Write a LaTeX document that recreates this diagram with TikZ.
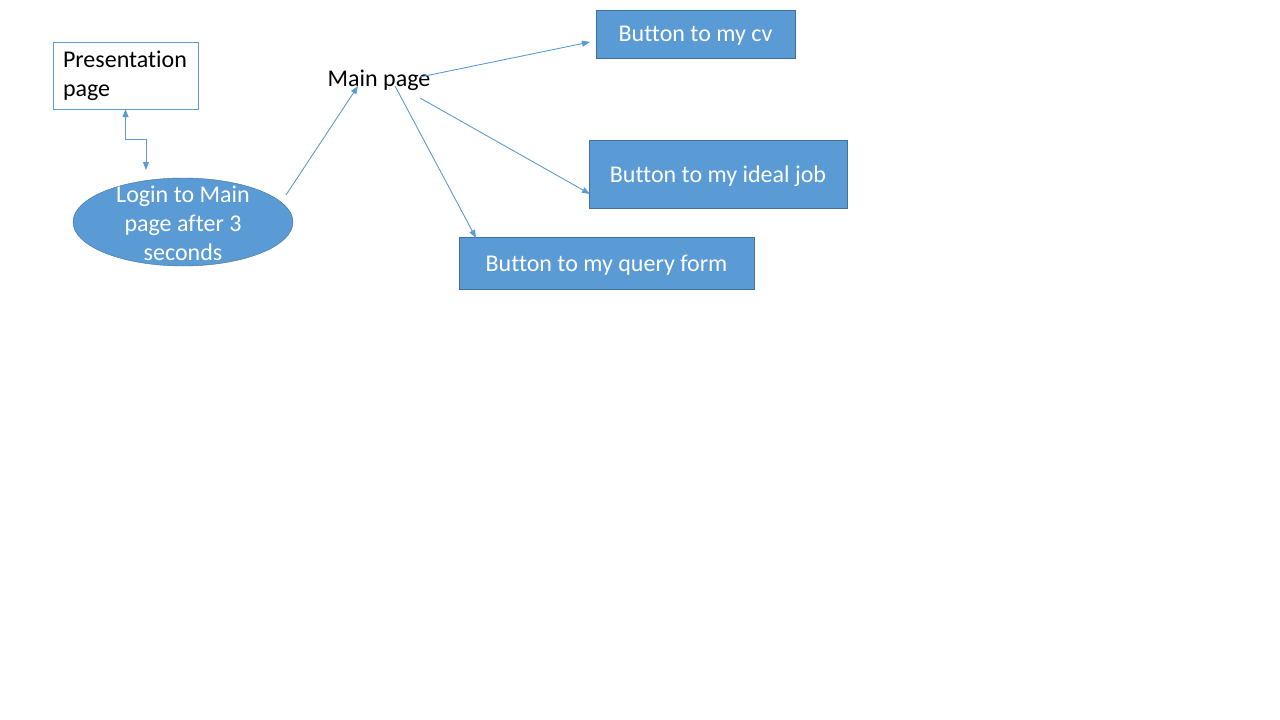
\documentclass[tikz,border=0pt]{standalone}
\usepackage{fontspec}
\setmainfont{Carlito}[Ligatures=CommonOff]
\usepackage{xcolor}
\usetikzlibrary{shapes,arrows.meta,positioning,calc}
\definecolor{accentblue}{HTML}{5B9BD5}
\definecolor{darkblue}{HTML}{41719C}
\tikzset{
    pagebox/.style={draw=accentblue, fill=white, text=black, minimum width=145pt, minimum height=67pt, text width=125pt, inner xsep=10pt, inner ysep=0pt, align=left},
    button/.style={draw=darkblue, fill=accentblue, text=white, inner sep=0pt},
    loginshape/.style={ellipse, draw=darkblue, fill=accentblue, minimum width=220pt, minimum height=88pt, inner sep=0pt},
    link/.style={accentblue, line width=0.9pt, -{Triangle[length=8pt,width=6pt]}}
}

\begin{document}
\begin{tikzpicture}[x=1pt, y=-1pt, font=\fontsize{24}{29}\selectfont]
    \useasboundingbox (0,0) rectangle (1280,720);

    % Pages
    \node[pagebox] (pres) at (125.5,75.5) {Presentation\\page};
    \node[loginshape] (login) at (183,222) {};
    \node[text=white, align=center, inner sep=0pt] (logintext) at (183,223) {Login to Main\\page after 3\\seconds};
    \node[inner sep=0pt] (main) at (379,80) {Main page};

    % Buttons
    \node[button, minimum width=199pt, minimum height=48pt, text depth=0pt] (cv) at (695.5,34) {Button to my cv};
    \node[button, minimum width=258pt, minimum height=68pt, text depth=0pt] (job) at (718,174) {Button to my ideal job};
    \node[button, minimum width=295pt, minimum height=52pt, text depth=0pt] (query) at (606.5,263) {Button to my query form};

    % Connector ends
    \coordinate (lt) at (146,170);
    \coordinate (ls) at (286,195);
    \coordinate (ma) at (358,86);
    \coordinate (mb) at (420,77);
    \coordinate (mc) at (420,98);
    \coordinate (md) at (395,86);
    \coordinate (cvend) at (590,42);
    \coordinate (jobend) at (590,194);
    \coordinate (queryend) at (476,238);

    % Links
    \draw[link, {Triangle[length=8pt,width=6pt]}-{Triangle[length=8pt,width=6pt]}] (pres.south) -- ++(0,30) -| (lt);
    \draw[link] (ls) -- (ma);
    \draw[link] (mb) -- (cvend);
    \draw[link] (mc) -- (jobend);
    \draw[link] (md) -- (queryend);
\end{tikzpicture}
\end{document}
